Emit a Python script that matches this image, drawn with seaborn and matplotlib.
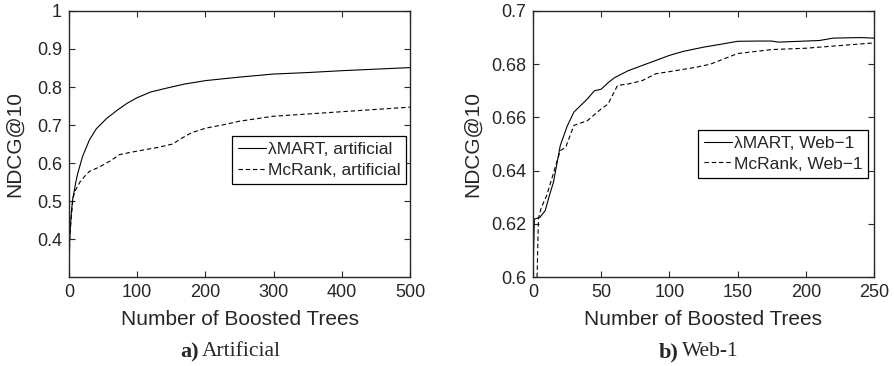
import matplotlib
matplotlib.use("Agg")
import matplotlib.pyplot as plt
import seaborn as sns
import pandas as pd

# panel a) artificial data
art_lm_x = [0, 1, 3, 5, 10, 13, 20, 30, 40, 55, 70, 85, 100, 120, 143, 170, 201, 250, 299, 350, 401, 450, 500]
art_lm_y = [0.30, 0.40, 0.46, 0.50, 0.55, 0.574, 0.618, 0.661, 0.69, 0.717, 0.738, 0.757, 0.772, 0.787,
            0.797, 0.808, 0.817, 0.826, 0.834, 0.838, 0.843, 0.847, 0.851]
art_mc_x = [0, 1, 3, 6, 10, 16, 23, 30, 45, 60, 74, 90, 108, 130, 152, 165, 180, 201, 225, 250,
            299, 350, 400, 450, 500]
art_mc_y = [0.30, 0.40, 0.45, 0.51, 0.53, 0.55, 0.565, 0.578, 0.59, 0.605, 0.622, 0.628, 0.634, 0.641,
            0.65, 0.665, 0.68, 0.692, 0.70, 0.71, 0.723, 0.729, 0.735, 0.741, 0.747]

# panel b) Web-1 data
web_lm_x = [0, 1, 5, 9, 12, 15, 20, 25, 30, 35, 40, 45, 50, 55, 60, 70, 80, 90, 100, 110, 125, 140,
            150, 165, 175, 180, 200, 210, 220, 240, 250]
web_lm_y = [0.600, 0.6218, 0.6224, 0.625, 0.6306, 0.6356, 0.6494, 0.6566, 0.662, 0.6645, 0.667, 0.670,
            0.6706, 0.673, 0.675, 0.6776, 0.6795, 0.6814, 0.6833, 0.6848, 0.6864, 0.6877, 0.6886,
            0.6887, 0.6887, 0.6883, 0.6887, 0.6889, 0.6898, 0.690, 0.6898]
web_mc_x = [3, 4, 6, 10, 15, 20, 24, 30, 40, 50, 55, 62, 70, 80, 90, 100, 120, 130, 150, 175, 200, 225, 250]
web_mc_y = [0.600, 0.622, 0.626, 0.6306, 0.639, 0.6475, 0.6488, 0.657, 0.6588, 0.6632, 0.665, 0.672,
            0.6726, 0.6738, 0.6764, 0.6772, 0.6789, 0.680, 0.684, 0.6855, 0.686, 0.687, 0.688]

sns.set_style("ticks")
plt.rcParams["font.family"] = ["Liberation Sans", "DejaVu Sans"]


def make_df(xs, ys, name):
    return pd.DataFrame({"trees": xs, "ndcg": ys, "model": name})


fig = plt.figure(figsize=(8.95, 3.66), dpi=100)
ax1 = fig.add_axes([0.0771, 0.243, 0.381, 0.727])
ax2 = fig.add_axes([0.5955, 0.243, 0.381, 0.727])

panels = [
    (ax1, art_lm_x, art_lm_y, art_mc_x, art_mc_y, "artificial", (0, 500), (0.3, 1.0),
     [0, 100, 200, 300, 400, 500], [0.4, 0.5, 0.6, 0.7, 0.8, 0.9, 1.0], ["0.4", "0.5", "0.6", "0.7", "0.8", "0.9", "1"],
     (0.478, 0.530), -0.132),
    (ax2, web_lm_x, web_lm_y, web_mc_x, web_mc_y, "Web\u22121", (0, 250), (0.6, 0.7),
     [0, 50, 100, 150, 200, 250], [0.6, 0.62, 0.64, 0.66, 0.68, 0.7], ["0.6", "0.62", "0.64", "0.66", "0.68", "0.7"],
     (0.484, 0.553), -0.150),
]

for ax, lx, ly, mx, my, tag, xl, yl, xt, yt, ytl, leg_pos, ylab_x in panels:
    df = pd.concat([make_df(lx, ly, "\u03bbMART, " + tag), make_df(mx, my, "McRank, " + tag)])
    sns.lineplot(data=df, x="trees", y="ndcg", hue="model", style="model",
                 palette=["black", "black"], dashes=[(None, None), (4, 2.5)],
                 linewidth=0.8, ax=ax, sort=False)
    ax.set_xlim(*xl)
    ax.set_ylim(*yl)
    ax.set_xticks(xt)
    ax.set_yticks(yt)
    ax.set_yticklabels(ytl)
    ax.tick_params(direction="in", top=True, right=True, length=4, width=0.8, labelsize=13, pad=5)
    for sp in ax.spines.values():
        sp.set_linewidth(1.0)
        sp.set_visible(True)
    ax.set_xlabel("Number of Boosted Trees", fontsize=15)
    ax.set_ylabel("NDCG@10", fontsize=15)
    ax.xaxis.set_label_coords(0.5, -0.125)
    ax.yaxis.set_label_coords(ylab_x, 0.5)
    leg = ax.legend(loc="upper left", bbox_to_anchor=leg_pos, borderaxespad=0, fontsize=12.5,
                    frameon=True, fancybox=False, framealpha=1, edgecolor="black",
                    handlelength=1.6, handletextpad=0.1, borderpad=0.35, labelspacing=0.3)
    leg.get_frame().set_linewidth(0.9)

# captions below each panel
serif = ["Liberation Serif", "DejaVu Serif"]
fig.text(199 / 895, 1 - 352 / 366, "a)", ha="right", va="center", fontsize=16, fontweight="bold", family=serif)
fig.text(202 / 895, 1 - 352 / 366, "Artificial", ha="left", va="center", fontsize=15.5, family=serif)
fig.text(679 / 895, 1 - 352 / 366, "b)", ha="right", va="center", fontsize=16, fontweight="bold", family=serif)
fig.text(682 / 895, 1 - 352 / 366, "Web-1", ha="left", va="center", fontsize=15.5, family=serif)

fig.savefig("out.png", dpi=100)
